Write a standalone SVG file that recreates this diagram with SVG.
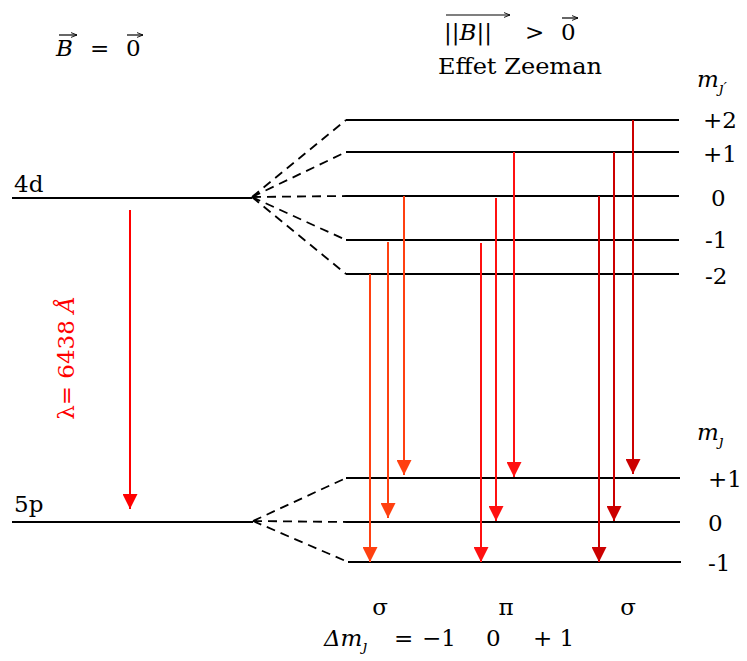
<svg xmlns="http://www.w3.org/2000/svg" width="747" height="661" viewBox="0 0 747 661">
<defs>
<marker id="ah" viewBox="0 0 10 10" refX="10" refY="5" markerWidth="15" markerHeight="15" markerUnits="userSpaceOnUse" orient="auto"><path d="M0,0 L10,5 L0,10 z" fill="context-stroke"/></marker>
<marker id="sa" viewBox="0 0 10 10" refX="10" refY="5" markerWidth="6" markerHeight="6" markerUnits="userSpaceOnUse" orient="auto"><path d="M0,1 L10,5 L0,9" fill="none" stroke="#000" stroke-width="1.5"/></marker>
</defs>
<style>
text{font-family:"DejaVu Serif","Liberation Serif",serif;fill:#000;font-size:23px}
.it{font-style:italic}
.vec{stroke:#000;stroke-width:1.2;fill:none;marker-end:url(#sa)}
.lvl{stroke:#000;stroke-width:2;fill:none}
.dash{stroke:#000;stroke-width:1.8;stroke-dasharray:9,6;fill:none}
.arr{stroke-width:2;fill:none;marker-end:url(#ah)}
.o{stroke:#ff4010}
.r{stroke:#ff1010}
.d{stroke:#cc0000}
</style>
<rect width="747" height="661" fill="#fff"/>
<g id="title-left">
<text x="56" y="56" class="it">B</text>
<text x="90" y="56">=</text>
<text x="126" y="56">0</text>
<line class="vec" x1="59" y1="35" x2="77" y2="35"/>
<line class="vec" x1="127" y1="35" x2="143" y2="35"/>
</g>
<g id="title-right">
<line class="vec" x1="446" y1="15" x2="510" y2="15"/>
<text x="444" y="40">||<tspan font-style="italic">B</tspan>||</text>
<text x="525" y="40">&gt;</text>
<text x="561" y="40">0</text>
<line class="vec" x1="562" y1="18" x2="578" y2="18"/>
<text x="520" y="74" text-anchor="middle" textLength="164" lengthAdjust="spacingAndGlyphs">Effet Zeeman</text>
</g>
<g id="level-4d"><line class="lvl" x1="12" y1="198" x2="252" y2="198"/><text x="14" y="192">4d</text></g>
<g id="level-5p"><line class="lvl" x1="12" y1="522" x2="253" y2="522"/><text x="14" y="512">5p</text></g>
<g id="upper-levels">
<line class="lvl" x1="346" y1="120" x2="679" y2="120"/>
<line class="lvl" x1="346" y1="152" x2="679" y2="152"/>
<line class="lvl" x1="346" y1="196" x2="679" y2="196"/>
<line class="lvl" x1="346" y1="240" x2="679" y2="240"/>
<line class="lvl" x1="346" y1="274" x2="679" y2="274"/>
<text x="697" y="87" class="it">m<tspan font-size="15" dy="6">ȷ′</tspan></text>
<text x="703" y="128">+2</text>
<text x="703" y="162">+1</text>
<text x="711" y="206">0</text>
<text x="705" y="248">-1</text>
<text x="705" y="284">-2</text>
</g>
<g id="lower-levels">
<line class="lvl" x1="346" y1="478" x2="680" y2="478"/>
<line class="lvl" x1="346" y1="522" x2="680" y2="522"/>
<line class="lvl" x1="348" y1="562" x2="681" y2="562"/>
<text x="697" y="440" class="it">m<tspan font-size="15" dy="6">ȷ</tspan></text>
<text x="708" y="487">+1</text>
<text x="708" y="531">0</text>
<text x="708" y="571">-1</text>
</g>
<g id="connectors">
<path class="dash" d="M252,197 L346,120 M252,197 L346,152 M252,197 L346,196 M252,197 L346,240 M252,197 L346,274"/>
<path class="dash" d="M253,521 L346,478 M253,521 L346,522 M253,521 L348,562"/>
<line class="arr" x1="130" y1="210" x2="130" y2="509" stroke="#ff0000"/>
<line class="arr o" x1="370" y1="274" x2="370" y2="562"/>
<line class="arr o" x1="388" y1="242" x2="388" y2="518"/>
<line class="arr o" x1="404" y1="196" x2="404" y2="475"/>
<line class="arr r" x1="481" y1="243" x2="481" y2="562"/>
<line class="arr r" x1="496" y1="198" x2="496" y2="521"/>
<line class="arr r" x1="514" y1="152" x2="514" y2="477"/>
<line class="arr d" x1="599" y1="196" x2="599" y2="562"/>
<line class="arr d" x1="614" y1="152" x2="614" y2="521"/>
<line class="arr d" x1="633" y1="120" x2="633" y2="474"/>
</g>
<g id="wavelength"><text transform="translate(74,358) rotate(-90)" text-anchor="middle" style="fill:#ff0000">λ= 6438 <tspan font-style="italic">Å</tspan></text></g>
<g id="polarisation">
<text x="380" y="615" text-anchor="middle">σ</text>
<text x="506" y="615" text-anchor="middle">π</text>
<text x="628" y="615" text-anchor="middle">σ</text>
<text x="324" y="646" class="it">Δm<tspan font-size="15" dy="5">ȷ</tspan></text>
<text x="394" y="646">=</text>
<text x="422" y="646">−1</text>
<text x="486" y="646">0</text>
<text x="533" y="646">+ 1</text>
</g>
</svg>
